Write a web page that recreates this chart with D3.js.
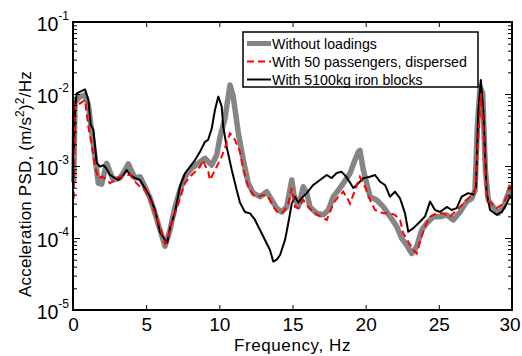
<!DOCTYPE html>
<html>
<head>
<meta charset="utf-8">
<script src="https://cdn.jsdelivr.net/npm/d3@7"></script>
<style>
  body { margin: 0; background: #fff; }
  svg text { font-family: "Liberation Sans", Arial, sans-serif; fill: #000; }
</style>
</head>
<body>
<svg id="chart" width="522" height="356"></svg>
<script>
// series values (frequency in Hz, PSD in (m/s^2)^2/Hz)
var seriesNames = ["Without loadings", "With 50 passengers, dispersed", "With 5100kg iron blocks"];

var freqGray = [0.05, 0.14, 0.48, 0.82, 1.05, 1.28, 1.50, 1.73, 1.96, 2.30, 2.53, 2.75, 3.21, 3.48, 3.78, 4.03, 4.24, 4.58, 4.92, 5.26, 5.60, 5.95, 6.29, 6.63, 6.97, 7.31, 7.65, 8.11, 8.56, 9.02, 9.26, 9.48, 9.82, 10.05, 10.39, 10.50, 10.73, 10.95, 11.30, 11.64, 11.98, 12.32, 12.78, 13.24, 13.58, 13.92, 14.26, 14.60, 14.76, 14.95, 15.10, 15.40, 15.74, 15.97, 16.20, 16.65, 17.11, 17.45, 17.79, 18.13, 18.47, 18.93, 19.27, 19.50, 19.61, 19.84, 20.30, 20.75, 21.21, 21.66, 22.12, 22.46, 22.80, 23.15, 23.49, 23.83, 24.17, 24.62, 25.08, 25.54, 25.99, 26.45, 26.90, 27.25, 27.47, 27.63, 27.82, 28.00, 28.18, 28.38, 28.72, 29.06, 29.41, 29.75, 29.93];
var psdGray = [6e-4, 7.8e-3, 9.2e-3, 9.7e-3, 7.0e-3, 3.0e-3, 1.35e-3, 5.8e-4, 5.6e-4, 1.09e-3, 8.25e-4, 6.4e-4, 6.8e-4, 8.25e-4, 1.07e-3, 8.25e-4, 6.8e-4, 7.1e-4, 5.1e-4, 3.6e-4, 2.2e-4, 1.29e-4, 7.7e-5, 1.29e-4, 2.7e-4, 4.6e-4, 7.1e-4, 9.3e-4, 1.09e-3, 1.28e-3, 1.14e-3, 1.03e-3, 1.42e-3, 2.55e-3, 4.6e-3, 6.7e-3, 1.33e-2, 9.2e-3, 2.85e-3, 1.21e-3, 5.75e-4, 4.2e-4, 3.75e-4, 4.4e-4, 3.37e-4, 2.6e-4, 2.3e-4, 2.7e-4, 4.0e-4, 6.4e-4, 4.0e-4, 2.7e-4, 5.15e-4, 4.2e-4, 2.7e-4, 2.2e-4, 2.1e-4, 2.45e-4, 3.75e-4, 4.6e-4, 5.75e-4, 7.9e-4, 1.21e-3, 1.58e-3, 1.65e-3, 8.8e-4, 3.75e-4, 3.37e-4, 2.7e-4, 2.0e-4, 1.45e-4, 9.9e-5, 8.0e-5, 6.1e-5, 7.6e-5, 1.29e-4, 1.6e-4, 1.97e-4, 1.97e-4, 2.1e-4, 1.78e-4, 2.3e-4, 3.2e-4, 3.55e-4, 4.6e-4, 3.5e-3, 1.26e-2, 1.02e-2, 8.8e-4, 3.37e-4, 2.7e-4, 2.2e-4, 2.7e-4, 4.2e-4, 5.45e-4];

var freqRed = [0.05, 0.14, 0.48, 0.82, 1.05, 1.28, 1.50, 1.73, 1.96, 2.19, 2.53, 2.87, 3.21, 3.55, 3.90, 4.24, 4.58, 4.92, 5.26, 5.60, 5.95, 6.29, 6.51, 6.74, 6.97, 7.20, 7.43, 7.65, 8.00, 8.34, 8.68, 8.90, 9.02, 9.25, 9.36, 9.59, 9.82, 10.16, 10.39, 10.73, 11.07, 11.41, 11.64, 11.98, 12.32, 12.66, 13.00, 13.35, 13.69, 14.03, 14.37, 14.71, 14.95, 15.17, 15.40, 15.74, 16.08, 16.42, 16.88, 17.34, 17.79, 18.13, 18.47, 18.81, 18.93, 19.27, 19.61, 19.95, 20.30, 20.64, 21.21, 21.66, 22.00, 22.35, 22.57, 22.91, 23.26, 23.49, 23.71, 24.06, 24.40, 24.85, 25.31, 25.76, 26.22, 26.67, 27.13, 27.47, 27.70, 27.87, 28.04, 28.27, 28.61, 28.95, 29.41, 29.75, 29.91];
var psdRed = [3.5e-4, 7.4e-3, 7.4e-3, 8.25e-3, 3.5e-3, 1.95e-3, 9.8e-4, 6.75e-4, 7.1e-4, 6.75e-4, 5.75e-4, 6.4e-4, 7.1e-4, 7.5e-4, 7.5e-4, 6.05e-4, 5.15e-4, 4.6e-4, 3.37e-4, 2.2e-4, 1.43e-4, 8.4e-5, 1.04e-4, 1.6e-4, 2.2e-4, 3.0e-4, 4.2e-4, 5.8e-4, 7.1e-4, 8.3e-4, 9.8e-4, 1.21e-3, 1.03e-3, 8.25e-4, 6.4e-4, 7.9e-4, 9.8e-4, 1.35e-3, 1.8e-3, 2.85e-3, 2.3e-3, 1.58e-3, 8.8e-4, 5.15e-4, 3.95e-4, 3.75e-4, 3.95e-4, 3.75e-4, 2.7e-4, 2.2e-4, 2.3e-4, 3.0e-4, 4.9e-4, 2.7e-4, 2.6e-4, 3.37e-4, 2.7e-4, 2.3e-4, 2.0e-4, 1.78e-4, 3.0e-4, 3.75e-4, 4.4e-4, 3.37e-4, 3.0e-4, 4.6e-4, 7.1e-4, 5.15e-4, 3.37e-4, 2.45e-4, 2.2e-4, 2.2e-4, 2.1e-4, 1.78e-4, 1.16e-4, 8.9e-5, 6.8e-5, 6.1e-5, 8.9e-5, 1.45e-4, 1.97e-4, 2.2e-4, 2.2e-4, 1.97e-4, 2.45e-4, 3.0e-4, 3.75e-4, 4.4e-4, 2.55e-3, 1.02e-2, 3.5e-3, 3.37e-4, 3.0e-4, 2.6e-4, 3.0e-4, 4.2e-4, 5.45e-4];

var freqBlack = [0.05, 0.15, 0.25, 0.82, 1.05, 1.21, 1.39, 1.62, 1.85, 2.07, 2.26, 2.53, 2.87, 3.10, 3.44, 3.67, 3.90, 4.24, 4.58, 4.92, 5.26, 5.60, 5.95, 6.29, 6.44, 6.63, 6.97, 7.31, 7.65, 8.00, 8.34, 8.68, 9.02, 9.23, 9.48, 9.70, 9.93, 10.16, 10.27, 10.50, 10.85, 11.19, 11.41, 11.75, 12.10, 12.44, 12.78, 13.12, 13.46, 13.69, 13.92, 14.15, 14.49, 14.71, 14.95, 15.17, 15.40, 15.63, 15.97, 16.42, 16.88, 17.34, 17.68, 18.02, 18.36, 18.70, 19.16, 19.50, 19.84, 20.30, 20.64, 20.98, 21.32, 21.66, 22.00, 22.35, 22.69, 22.91, 23.26, 23.71, 24.06, 24.40, 24.74, 25.08, 25.54, 25.88, 26.22, 26.56, 27.01, 27.36, 27.54, 27.70, 27.87, 28.04, 28.27, 28.50, 28.95, 29.30, 29.64, 29.86, 30.0];
var psdBlack = [1.5e-3, 6.5e-3, 1.02e-2, 1.16e-2, 8.3e-3, 3.7e-3, 3.2e-3, 1.1e-3, 9.8e-4, 1.03e-3, 9.4e-4, 7.5e-4, 6.8e-4, 6.4e-4, 7.5e-4, 8.8e-4, 7.5e-4, 6.8e-4, 6.4e-4, 4.9e-4, 3.7e-4, 2.45e-4, 1.2e-4, 9.4e-5, 8.6e-5, 1.38e-4, 2.3e-4, 5.2e-4, 7.9e-4, 9.8e-4, 1.21e-3, 1.58e-3, 2.17e-3, 2.3e-3, 3.3e-3, 6.0e-3, 9.2e-3, 6.7e-3, 3.5e-3, 1.85e-3, 8.8e-4, 4.6e-4, 3.1e-4, 2.3e-4, 2.2e-4, 1.78e-4, 1.29e-4, 9.4e-5, 6.8e-5, 4.7e-5, 5.0e-5, 5.8e-5, 9.4e-5, 1.6e-4, 3.0e-4, 3.75e-4, 3.1e-4, 3.6e-4, 4.2e-4, 5.45e-4, 6.4e-4, 7.5e-4, 6.8e-4, 8.0e-4, 8.3e-4, 7.0e-4, 4.95e-4, 5.75e-4, 6.75e-4, 7.1e-4, 7.5e-4, 6.05e-4, 5.45e-4, 3.75e-4, 4.4e-4, 3.55e-4, 2.2e-4, 1.22e-4, 1.37e-4, 1.68e-4, 2.0e-4, 3.2e-4, 2.45e-4, 2.3e-4, 2.7e-4, 2.45e-4, 2.6e-4, 3.75e-4, 4.2e-4, 4.0e-4, 5.15e-4, 6.0e-3, 1.56e-2, 6.0e-3, 4.2e-4, 2.45e-4, 2.1e-4, 2.3e-4, 3.0e-4, 3.75e-4, 3.55e-4];

var xTicks = [0, 5, 10, 15, 20, 25, 30];
var yMajor = [-5, -4, -3, -2, -1]; // decade exponents

var svg = d3.select("#chart"),
    pLeft = 73, pRight = 512, pTop = 22, pBottom = 310;

var x = d3.scaleLinear().domain([0, 30]).range([pLeft, pRight]);
var y = d3.scaleLog().domain([1e-5, 1e-1]).range([pBottom, pTop]);

var majors = yMajor.map(function(e) { return Math.pow(10, e); });
var minors = [];
yMajor.slice(0, -1).forEach(function(e) {
  for (var k = 2; k <= 9; k++) minors.push(k * Math.pow(10, e));
});

// series
var line = d3.line()
  .x(function(d) { return x(d[0]); })
  .y(function(d) { return y(d[1]); });

var plot = svg.append("g");
plot.append("path")
  .datum(d3.zip(freqGray, psdGray))
  .attr("fill", "none").attr("stroke", "#858585").attr("stroke-width", 5.5)
  .attr("stroke-linejoin", "round")
  .attr("d", line);
plot.append("path")
  .datum(d3.zip(freqBlack, psdBlack))
  .attr("fill", "none").attr("stroke", "#000").attr("stroke-width", 2)
  .attr("stroke-linejoin", "round")
  .attr("d", line);
plot.append("path")
  .datum(d3.zip(freqRed, psdRed))
  .attr("fill", "none").attr("stroke", "#ff0000").attr("stroke-width", 2)
  .attr("stroke-dasharray", "7,4")
  .attr("d", line);

// axes, ticks pointing inwards
function styleAxis(g) {
  g.select(".domain").remove();
  g.selectAll(".tick line").attr("stroke", "#000").attr("stroke-width", 1);
}

svg.append("g").attr("transform", "translate(0," + pBottom + ")")
  .call(d3.axisBottom(x).tickValues(xTicks).tickSize(-5).tickPadding(8).tickFormat(d3.format("d")))
  .call(styleAxis)
  .selectAll("text")
    .attr("font-size", 19)
    .attr("font-family", "Liberation Sans, Arial, sans-serif")
    .attr("dx", function(d) { return d === 30 ? -2.5 : 0; });

svg.append("g").attr("transform", "translate(0," + pTop + ")")
  .call(d3.axisTop(x).tickValues(xTicks).tickSize(-5).tickFormat(""))
  .call(styleAxis);

[[pLeft, d3.axisLeft], [pRight, d3.axisRight]].forEach(function(a) {
  svg.append("g").attr("transform", "translate(" + a[0] + ",0)")
    .call(a[1](y).tickValues(majors).tickSize(-7).tickFormat(""))
    .call(styleAxis);
  svg.append("g").attr("transform", "translate(" + a[0] + ",0)")
    .call(a[1](y).tickValues(minors).tickSize(-4).tickFormat(""))
    .call(styleAxis);
});

// y tick labels 10^n
var yLab = svg.append("g").selectAll("text")
  .data(yMajor).enter().append("text")
    .attr("x", 69)
    .attr("y", function(e) { return y(Math.pow(10, e)) + 9; })
    .attr("text-anchor", "end")
    .attr("font-size", 19.5);
yLab.append("tspan").text("10");
yLab.append("tspan").attr("dy", -11).attr("font-size", 12).text(function(e) { return "-" + (-e); });

// frame
svg.append("rect")
  .attr("x", pLeft).attr("y", pTop)
  .attr("width", pRight - pLeft).attr("height", pBottom - pTop)
  .attr("fill", "none").attr("stroke", "#000").attr("stroke-width", 2);

// axis titles
svg.append("text")
  .attr("x", (pLeft + pRight) / 2).attr("y", 351)
  .attr("text-anchor", "middle").attr("font-size", 17)
  .attr("letter-spacing", 0.6)
  .text("Frequency, Hz");

var yt = svg.append("text")
  .attr("transform", "translate(31,297) rotate(-90)")
  .attr("font-size", 17).attr("letter-spacing", 0.2);
yt.append("tspan").text("Acceleration PSD, (m/s");
yt.append("tspan").attr("dy", -7).attr("font-size", 12).text("2");
yt.append("tspan").attr("dy", 7).text(")");
yt.append("tspan").attr("dy", -7).attr("font-size", 12).text("2");
yt.append("tspan").attr("dy", 7).text("/Hz");

// legend
var lg = svg.append("g").attr("transform", "translate(243,32)");
lg.append("rect").attr("width", 235).attr("height", 55)
  .attr("fill", "#fff").attr("stroke", "#000").attr("stroke-width", 1.5);
var legStyles = [
  { color: "#858585", width: 5, dash: null },
  { color: "#ff0000", width: 2, dash: "7,4" },
  { color: "#000", width: 2, dash: null }
];
var item = lg.selectAll("g.item").data(seriesNames).enter().append("g")
  .attr("transform", function(d, i) { return "translate(0," + (11.5 + i * 18) + ")"; });
item.append("line")
  .attr("x1", 4).attr("x2", 28)
  .attr("stroke", function(d, i) { return legStyles[i].color; })
  .attr("stroke-width", function(d, i) { return legStyles[i].width; })
  .attr("stroke-dasharray", function(d, i) { return legStyles[i].dash; });
item.append("text")
  .attr("x", 29).attr("y", 5)
  .attr("font-size", 14.2)
  .text(function(d) { return d; });
</script>
</body>
</html>
